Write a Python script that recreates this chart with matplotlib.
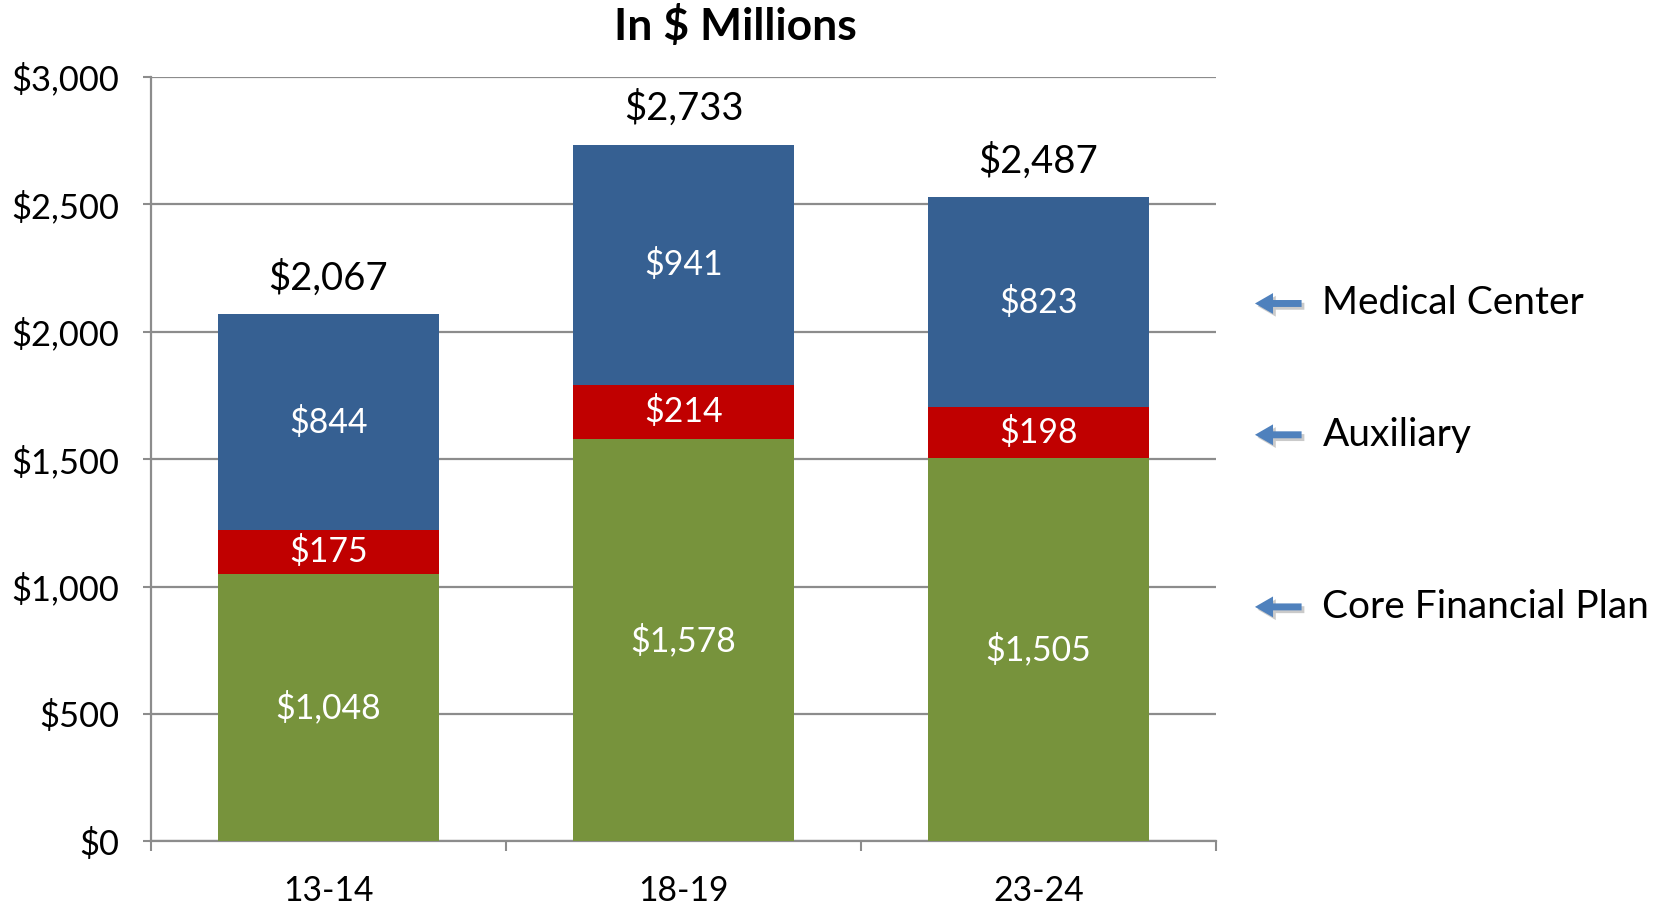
import matplotlib
matplotlib.use("Agg")
import matplotlib.pyplot as plt
import matplotlib.transforms as mtransforms
import numpy as np

# data
years = ["13-14", "18-19", "23-24"]
core = [1048, 1578, 1505]
auxiliary = [175, 214, 198]
medical = [844, 941, 823]
totals = [2067, 2733, 2487]
series_names = ["Core Financial Plan", "Auxiliary", "Medical Center"]
legend_levels = [920, 1595, 2110]
y_ticks = [0, 500, 1000, 1500, 2000, 2500, 3000]

green = "#77933C"
red = "#C00000"
blue = "#366092"
arrow_blue = "#4F81BD"
grid_gray = "#8C8C8C"

plt.rcParams["font.family"] = ["Lato", "DejaVu Sans"]

fig = plt.figure(figsize=(16.68, 9.05), dpi=100)
ax = fig.add_axes([0.0905, 0.0702, 0.6385, 0.8452])

x = np.arange(len(years))
width = 0.62
bottom = np.zeros(len(years))
for vals, color in zip([core, auxiliary, medical], [green, red, blue]):
    vals = np.array(vals)
    ax.bar(x, vals, width, bottom=bottom, color=color, zorder=3)
    for xi, b, v in zip(x, bottom, vals):
        ax.text(xi, b + v / 2, "${:,}".format(v), ha="center", va="center",
                color="white", fontsize=24.3, zorder=4)
    bottom = bottom + vals

# total labels above the bars
for xi, top, t in zip(x, bottom, totals):
    ax.annotate("${:,}".format(t), (xi, top), xytext=(0, 13),
                textcoords="offset points", ha="center", va="bottom",
                fontsize=27.5, color="black")

ax.set_xlim(-0.5, len(years) - 0.5)
ax.set_ylim(0, 3000)
ax.set_yticks(y_ticks)
ax.set_yticklabels(["${:,}".format(v) for v in y_ticks], fontsize=24.8)
ax.set_xticks(x)
ax.set_xticklabels(years, fontsize=24.2)
ax.set_xticks(np.arange(len(years) + 1) - 0.5, minor=True)
ax.tick_params(axis="x", which="major", length=0, pad=24)
ax.tick_params(axis="x", which="minor", length=7, width=1.5, color=grid_gray)
ax.tick_params(axis="y", length=6, width=1.5, color=grid_gray, pad=17)

ax.grid(axis="y", color=grid_gray, linewidth=1.6, zorder=0)
for s in ["top", "right"]:
    ax.spines[s].set_visible(False)
for s in ["left", "bottom"]:
    ax.spines[s].set_color(grid_gray)
    ax.spines[s].set_linewidth(1.6)

fig.text(0.441, 0.971, "In $ Millions", fontsize=32, fontweight="bold",
         ha="center", va="center")

# arrows pointing at the segments
trans = mtransforms.blended_transform_factory(ax.transAxes, ax.transData)
arrow_style = "simple,head_length=0.65,head_width=0.75,tail_width=0.25"
for name, lvl in zip(series_names, legend_levels):
    shadow = mtransforms.offset_copy(trans, fig=fig, x=2, y=-2, units="points")
    ax.annotate("", xy=(1.034, lvl), xycoords=shadow, xytext=(1.083, lvl),
                textcoords=shadow,
                arrowprops=dict(arrowstyle=arrow_style, color="#a0a0a0",
                                alpha=0.55, lw=0, mutation_scale=20),
                annotation_clip=False)
    ax.annotate("", xy=(1.034, lvl), xycoords=trans, xytext=(1.083, lvl),
                textcoords=trans,
                arrowprops=dict(arrowstyle=arrow_style, color=arrow_blue, lw=0,
                                mutation_scale=20),
                annotation_clip=False)
    ax.text(1.100, lvl, name, transform=trans, ha="left", va="center",
            fontsize=28, color="black")

fig.savefig("out.png", dpi=100)
